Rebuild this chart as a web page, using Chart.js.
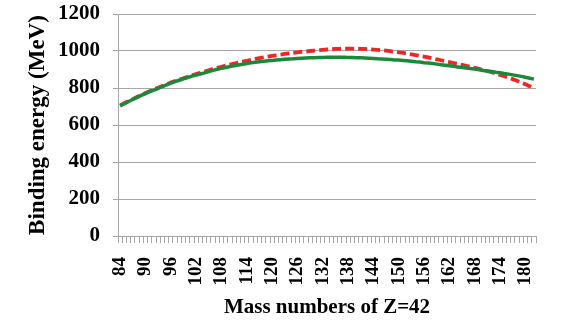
<!DOCTYPE html>
<html>
<head>
<meta charset="utf-8">
<script src="https://cdn.jsdelivr.net/npm/chart.js@4"></script>
<style>
    html, body { margin: 0; padding: 0; background: #fff; }
    canvas { display: block; }
</style>
</head>
<body>
<canvas id="chart" width="573" height="329"></canvas>
<script>
// Mass numbers A = 84 .. 182 for Z = 42
const massNumbers = [
    84, 85, 86, 87, 88, 89, 90, 91, 92, 93, 94, 95, 96, 97, 98, 99,
    100, 101, 102, 103, 104, 105, 106, 107, 108, 109, 110, 111, 112, 113, 114, 115,
    116, 117, 118, 119, 120, 121, 122, 123, 124, 125, 126, 127, 128, 129, 130, 131,
    132, 133, 134, 135, 136, 137, 138, 139, 140, 141, 142, 143, 144, 145, 146, 147,
    148, 149, 150, 151, 152, 153, 154, 155, 156, 157, 158, 159, 160, 161, 162, 163,
    164, 165, 166, 167, 168, 169, 170, 171, 172, 173, 174, 175, 176, 177, 178, 179,
    180, 181, 182
];

// Only every sixth mass number gets a label
const xTickLabels = ['84', '90', '96', '102', '108', '114', '120', '126', '132', '138',
    '144', '150', '156', '162', '168', '174', '180'];

// Binding energy (MeV), solid green curve
const bindingGreen = [
    703, 715, 727, 738, 749, 760, 770, 780, 789, 798, 808, 817, 826, 834, 842, 850,
    857, 864, 870, 876, 882, 889, 895, 901, 906, 911, 916, 920, 924, 928, 932, 936,
    939, 942, 944, 947, 949, 951, 953, 955, 957, 958, 960, 961, 962, 963, 964, 965,
    965, 966, 966, 966, 966, 966, 965, 965, 964, 963, 962, 961, 960, 958, 957, 956,
    954, 952, 951, 949, 947, 945, 942, 940, 937, 935, 932, 929, 926, 923, 920, 917,
    914, 911, 908, 905, 902, 899, 895, 892, 889, 885, 882, 878, 875, 871, 867, 863,
    858, 853, 848
];

// Binding energy (MeV), dashed red curve
const bindingRed = [
    706, 718, 729, 740, 751, 762, 773, 783, 792, 801, 811, 820, 829, 837, 845, 853,
    861, 868, 875, 882, 889, 896, 903, 909, 915, 921, 927, 932, 937, 942, 947, 952,
    957, 961, 965, 969, 973, 977, 980, 984, 987, 990, 993, 996, 998, 1000, 1002, 1004,
    1006, 1008, 1009, 1011, 1012, 1013, 1013, 1013, 1013, 1012, 1011, 1010, 1008, 1006, 1004, 1002,
    999, 996, 993, 990, 986, 982, 978, 974, 970, 965, 960, 955, 950, 945, 940, 935,
    930, 925, 920, 914, 909, 903, 897, 891, 885, 878, 871, 864, 856, 848, 839, 830,
    820, 810, 800
];

const yTicks = [0, 200, 400, 600, 800, 1000, 1200];

const serif = "'Liberation Serif', 'Times New Roman', serif";
const axisGray = '#a6a6a6';

new Chart(document.getElementById('chart'), {
    type: 'line',
    data: {
        labels: massNumbers,
        datasets: [
            {
                data: bindingGreen,
                borderColor: '#1a8a3a',
                borderWidth: 3.5,
                pointRadius: 0,
                fill: false
            },
            {
                data: bindingRed,
                borderColor: '#ee2626',
                borderWidth: 3.8,
                borderDash: [9, 4],
                pointRadius: 0,
                fill: false
            }
        ]
    },
    options: {
        responsive: false,
        animation: false,
        layout: { padding: { top: 14, right: 37, left: 0, bottom: 0 } },
        plugins: {
            legend: { display: false },
            tooltip: { enabled: false }
        },
        scales: {
            x: {
                type: 'category',
                offset: true,
                grid: {
                    offset: true,
                    drawOnChartArea: false,
                    tickLength: 7,
                    color: axisGray
                },
                border: { color: axisGray },
                ticks: {
                    autoSkip: false,
                    minRotation: 90,
                    maxRotation: 90,
                    padding: 14,
                    color: '#000',
                    font: { family: serif, size: 19, weight: 'bold' },
                    callback: function(value, index) {
                        const lbl = String(massNumbers[index]);
                        return xTickLabels.includes(lbl) ? lbl : '';
                    }
                },
                title: {
                    display: true,
                    text: 'Mass numbers of Z=42',
                    color: '#000',
                    font: { family: serif, size: 21, weight: 'bold' },
                    padding: { top: 0, bottom: 9 }
                },
                afterFit: function(scale) { scale.height = 93; }
            },
            y: {
                min: 0,
                max: 1200,
                afterBuildTicks: function(scale) {
                    scale.ticks = yTicks.map(v => ({ value: v }));
                },
                grid: { color: axisGray, tickLength: 5 },
                border: { color: axisGray },
                ticks: {
                    padding: 13,
                    color: '#000',
                    font: { family: serif, size: 21, weight: 'bold' },
                    callback: function(value) { return String(value); }
                },
                title: {
                    display: true,
                    text: 'Binding energy (MeV)',
                    color: '#000',
                    font: { family: serif, size: 23, weight: 'bold' },
                    padding: { top: 24, bottom: 0 }
                },
                afterFit: function(scale) {
                    // keep the plot box fixed; tick labels may overhang it
                    scale.width = 118;
                    scale.paddingTop = 0;
                    scale.paddingBottom = 0;
                }
            }
        }
    }
});
</script>
</body>
</html>
